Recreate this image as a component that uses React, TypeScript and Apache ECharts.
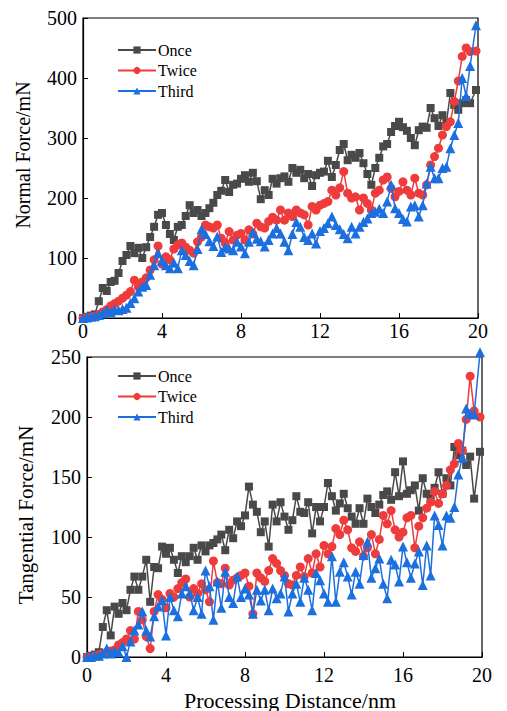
import React, { useEffect, useRef } from "react";
import * as echarts from "echarts";

const DIST = [
  0, 0.2, 0.4, 0.6, 0.8, 1.0, 1.2, 1.4, 1.6, 1.8,
  2.0, 2.2, 2.4, 2.6, 2.8, 3.0, 3.2, 3.4, 3.6, 3.8,
  4.0, 4.2, 4.4, 4.6, 4.8, 5.0, 5.2, 5.4, 5.6, 5.8,
  6.0, 6.2, 6.4, 6.6, 6.8, 7.0, 7.2, 7.4, 7.6, 7.8,
  8.0, 8.2, 8.4, 8.6, 8.8, 9.0, 9.2, 9.4, 9.6, 9.8,
  10.0, 10.2, 10.4, 10.6, 10.8, 11.0, 11.2, 11.4, 11.6, 11.8,
  12.0, 12.2, 12.4, 12.6, 12.8, 13.0, 13.2, 13.4, 13.6, 13.8,
  14.0, 14.2, 14.4, 14.6, 14.8, 15.0, 15.2, 15.4, 15.6, 15.8,
  16.0, 16.2, 16.4, 16.6, 16.8, 17.0, 17.2, 17.4, 17.6, 17.8,
  18.0, 18.2, 18.4, 18.6, 18.8, 19.0, 19.2, 19.4, 19.6, 19.9,
];

// Normal force (mN)
const ONCE_N = [
  0, 2, 4, 6, 28, 50, 45, 60, 62, 75,
  95, 105, 120, 108, 117, 100, 118, 135, 152, 172,
  175, 155, 140, 130, 152, 155, 170, 188, 175, 180,
  170, 175, 183, 192, 205, 212, 230, 210, 222, 224,
  232, 238, 227, 242, 228, 198, 213, 205, 232, 224,
  233, 236, 227, 250, 242, 247, 233, 240, 220, 238,
  242, 244, 262, 235, 255, 280, 290, 263, 272, 267,
  275, 258, 240, 222, 250, 267, 286, 290, 310, 320,
  327, 318, 312, 300, 288, 313, 319, 317, 350, 333,
  320, 338, 325, 375, 355, 347, 358, 363, 358, 380,
];
const TWICE_N = [
  0, 1, 2, 3, 6, 10, 14, 20, 24, 28,
  33, 38, 44, 63, 52, 60, 67, 80, 97, 120,
  90, 102, 97, 115, 122, 125, 118, 113, 108, 127,
  135, 155, 152, 150, 155, 133, 125, 144, 130, 138,
  141, 130, 147, 140, 158, 152, 150, 161, 168, 163,
  180, 163, 175, 169, 180, 175, 172, 155, 186, 180,
  188, 191, 194, 213, 205, 217, 244, 208, 200, 202,
  180, 200, 191, 180, 208, 213, 230, 235, 216, 202,
  211, 227, 213, 205, 233, 208, 205, 222, 255, 269,
  283, 305, 319, 327, 361, 395, 436, 450, 444, 445,
];
const THIRD_N = [
  0, 1, 2, 3, 5, 8, 13, 10, 14, 13,
  15, 17, 25, 33, 44, 52, 55, 72, 88, 108,
  95, 88, 83, 92, 83, 113, 105, 95, 88, 115,
  148, 140, 128, 120, 136, 110, 118, 116, 113, 127,
  119, 108, 127, 143, 132, 128, 119, 130, 141, 150,
  141, 127, 113, 140, 160, 152, 135, 130, 141, 124,
  145, 150, 158, 169, 155, 148, 140, 133, 152, 141,
  152, 160, 166, 175, 177, 182, 175, 194, 222, 183,
  175, 165, 161, 186, 188, 169, 188, 224, 252, 233,
  233, 250, 252, 283, 305, 325, 400, 370, 420, 488,
];

// Tangential force (mN)
const ONCE_T = [
  0, 1, 2, 4, 25, 39, 18, 42, 36, 45,
  39, 56, 67, 56, 67, 81, 46, 75, 74, 92,
  86, 91, 81, 70, 84, 79, 84, 91, 81, 93,
  88, 93, 95, 98, 102, 89, 106, 99, 113, 109,
  118, 142, 127, 121, 104, 113, 92, 127, 113, 129,
  117, 106, 114, 134, 121, 120, 129, 103, 125, 113,
  125, 145, 134, 122, 128, 136, 124, 117, 111, 124,
  111, 132, 125, 120, 127, 135, 138, 131, 154, 134,
  163, 136, 139, 143, 122, 149, 136, 132, 141, 154,
  136, 149, 143, 175, 168, 172, 160, 167, 132, 171,
];
const TWICE_T = [
  0, 0, 1, 2, 3, 4, 5, 6, 10, 12,
  15, 22, 15, 38, 31, 17, 7, 38, 52, 48,
  41, 53, 50, 57, 62, 65, 50, 57, 53, 61,
  56, 46, 80, 62, 61, 74, 60, 64, 66, 68,
  70, 59, 36, 70, 66, 63, 72, 82, 78, 72,
  68, 61, 60, 68, 75, 67, 82, 70, 86, 75,
  93, 86, 92, 107, 102, 114, 106, 91, 88, 96,
  84, 91, 102, 86, 98, 118, 111, 122, 106, 100,
  104, 116, 118, 91, 109, 116, 124, 129, 138, 128,
  136, 143, 156, 161, 178, 172, 198, 234, 205, 200,
];
const THIRD_T = [
  0, 0, 1, 1, 3, 7, 3, 5, 4, 9,
  0, 13, 22, 27, 38, 22, 17, 34, 42, 47,
  18, 50, 39, 34, 53, 59, 53, 39, 50, 36,
  72, 59, 31, 63, 41, 71, 50, 45, 67, 50,
  57, 52, 36, 56, 47, 56, 39, 57, 49, 53,
  67, 38, 53, 61, 46, 66, 56, 39, 70, 64,
  53, 46, 84, 46, 71, 79, 67, 52, 71, 61,
  85, 96, 66, 74, 82, 61, 49, 81, 77, 63,
  92, 79, 66, 78, 88, 60, 93, 68, 118, 110,
  93, 118, 116, 125, 152, 166, 207, 203, 202, 254,
];

const SERIES_NAMES = ["Once", "Twice", "Third"];
const COLORS = ["#494949", "#ee3b3b", "#1c6fdf"];
const SYMBOLS = ["rect", "circle", "triangle"];
const SYMBOL_SIZES = [8, 9, 10];

const FONT = "Liberation Serif";

function pairs(vals: number[]) {
  return DIST.map((d, i) => [d, vals[i]]);
}

export default function App() {
  const ref = useRef<HTMLDivElement>(null);
  useEffect(() => {
    if (!ref.current) return;
    const chart = echarts.init(ref.current, null, { renderer: "svg" });

    const mkSeries = (vals: number[], idx: number, gi: number) => ({
      name: SERIES_NAMES[idx],
      type: "line",
      xAxisIndex: gi,
      yAxisIndex: gi,
      data: pairs(vals),
      symbol: SYMBOLS[idx],
      symbolSize: SYMBOL_SIZES[idx],
      showSymbol: true,
      clip: false,
      itemStyle: { color: COLORS[idx] },
      lineStyle: { color: COLORS[idx], width: 1.5 },
      z: 2 + idx,
    });

    const xAxisBase = (gi: number, margin: number) => ({
      type: "value",
      gridIndex: gi,
      min: 0,
      max: 20,
      interval: 4,
      axisLine: { show: true, onZero: false, lineStyle: { color: "#000", width: 1.2 } },
      axisTick: { show: true, inside: true, length: 5, lineStyle: { color: "#000" } },
      axisLabel: { color: "#000", fontFamily: FONT, fontSize: 20, margin },
      splitLine: { show: false },
    });
    const yAxisBase = (gi: number, max: number, interval: number) => ({
      type: "value",
      gridIndex: gi,
      min: 0,
      max,
      interval,
      axisLine: { show: true, lineStyle: { color: "#000", width: 1.2 } },
      axisTick: { show: true, inside: true, length: 5, lineStyle: { color: "#000" } },
      axisLabel: { color: "#000", fontFamily: FONT, fontSize: 20, margin: 6 },
      splitLine: { show: false },
    });
    const legendBase = (top: number) => ({
      orient: "vertical",
      left: 112,
      top,
      itemWidth: 38,
      itemHeight: 9,
      itemGap: 4.5,
      data: SERIES_NAMES,
      textStyle: { color: "#000", fontFamily: FONT, fontSize: 16, padding: [0, 0, 0, -3] },
    });

    chart.setOption({
      animation: false,
      backgroundColor: "#fff",
      grid: [
        { left: 83, top: 18, width: 395, height: 300, show: true, borderColor: "#000", borderWidth: 1.2 },
        { left: 87, top: 357, width: 395, height: 300, show: true, borderColor: "#000", borderWidth: 1.2 },
      ],
      xAxis: [xAxisBase(0, 3), xAxisBase(1, 8)],
      yAxis: [yAxisBase(0, 500, 100), yAxisBase(1, 250, 50)],
      legend: [legendBase(37), legendBase(363)],
      graphic: [
        {
          type: "text",
          x: 23,
          y: 155,
          rotation: Math.PI / 2,
          style: {
            text: "Normal Force/mN",
            fill: "#000",
            font: `20px "${FONT}"`,
            textAlign: "center",
            textVerticalAlign: "middle",
          },
        },
        {
          type: "text",
          x: 26,
          y: 515,
          rotation: Math.PI / 2,
          style: {
            text: "Tangential Force/mN",
            fill: "#000",
            font: `21px "${FONT}"`,
            textAlign: "center",
            textVerticalAlign: "middle",
          },
        },
        {
          type: "text",
          x: 290,
          y: 700,
          style: {
            text: "Processing Distance/nm",
            fill: "#000",
            font: `22px "${FONT}"`,
            textAlign: "center",
            textVerticalAlign: "middle",
          },
        },
      ],
      series: [
        mkSeries(ONCE_N, 0, 0),
        mkSeries(TWICE_N, 1, 0),
        mkSeries(THIRD_N, 2, 0),
        mkSeries(ONCE_T, 0, 1),
        mkSeries(TWICE_T, 1, 1),
        mkSeries(THIRD_T, 2, 1),
      ],
    });
    return () => chart.dispose();
  }, []);

  return (
    <div
      ref={ref}
      style={{ width: 507, height: 711, position: "absolute", left: 0, top: 0, background: "#fff" }}
    />
  );
}
